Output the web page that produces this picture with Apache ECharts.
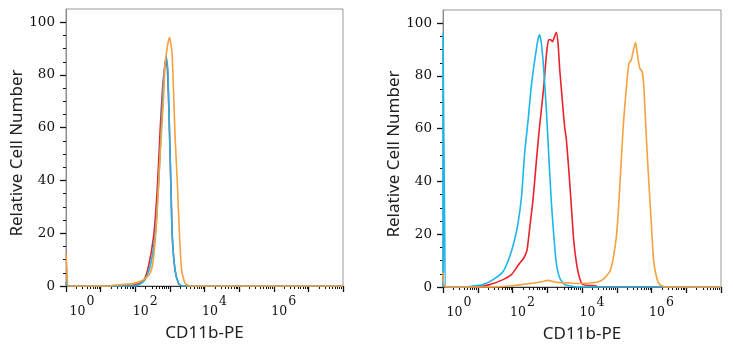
<!DOCTYPE html>
<html><head><meta charset="utf-8">
<script src="https://cdn.jsdelivr.net/npm/echarts@6/dist/echarts.min.js"></script>
<style>html,body{margin:0;padding:0;background:#fff}#c{width:733px;height:350px}</style>
</head><body><div id="c"></div>
<script>
// x values are in decades (log10 of intensity)
const xMajorTicks = [0,1,2,3,4,5,6,7,8];
const xLabelValues = [0,2,4,6];
const yLabelValues = [0,20,40,60,80,100];
const yMinorTicks = [5,10,15,25,30,35,45,50,55,65,70,75,85,90,95];
const seriesNames = ['Isotype', 'Blank', 'CD11b-PE'];

const leftRed = [[0,1],[0.04,0],[1.27,0],[1.85,0.2],[2.08,0.8],[2.23,1.8],[2.37,6.8],[2.53,18.7],[2.64,37.8],[2.72,59.3],[2.79,75],[2.85,83],[2.89,86],[2.93,82],[2.98,63],[3.03,37.8],[3.07,18.7],[3.15,6],[3.25,1],[3.35,0],[8,0]];
const leftCyan = [[0,1.5],[0.06,0],[1.70,0],[2.04,0.1],[2.28,2.3],[2.43,7.3],[2.57,18.7],[2.67,37.8],[2.75,59.3],[2.81,75.8],[2.89,87.4],[2.94,82],[2.98,63],[3.03,37.8],[3.07,18.7],[3.15,6],[3.25,1],[3.35,0],[8,0]];
const leftOrange = [[0,12],[0.03,6],[0.07,0],[1.30,0],[1.36,0.3],[1.70,0.6],[1.95,1],[2.23,2.3],[2.43,4.8],[2.52,9.9],[2.62,25],[2.72,50.4],[2.81,69.5],[2.86,83.4],[2.93,91],[2.99,94.2],[3.06,88.5],[3.10,75.8],[3.15,56.8],[3.22,37.8],[3.28,18.7],[3.34,6],[3.44,1],[3.58,0],[8,0]];

const rightRed = [[0,0],[0.96,0],[1.34,0.9],[1.73,2.8],[1.97,4.7],[2.11,7.2],[2.21,9.1],[2.29,10.3],[2.35,11.6],[2.42,14.1],[2.50,23],[2.59,33],[2.69,48.2],[2.76,58.3],[2.83,67.2],[2.90,76],[2.98,88.6],[3.04,93.7],[3.10,93.7],[3.15,93],[3.21,94.9],[3.26,96.5],[3.31,92.4],[3.36,82.3],[3.44,69.7],[3.50,60.8],[3.55,55.8],[3.62,44.4],[3.70,29.3],[3.76,17.9],[3.84,9.1],[3.93,3.4],[4.03,0.9],[4.41,0.4],[4.45,0],[8,0]];
const rightCyan = [[0,0],[0,96],[0.05,20],[0.08,0],[0.48,0],[0.77,0.2],[1.15,0.9],[1.44,2.8],[1.73,5.9],[1.92,11.6],[2.06,17.9],[2.16,24.2],[2.26,34.3],[2.35,50.8],[2.45,63.4],[2.54,76],[2.64,86],[2.73,93.7],[2.78,95.6],[2.83,92.4],[2.90,82.3],[2.98,65.9],[3.05,48.2],[3.12,31.8],[3.19,19.2],[3.26,9.1],[3.36,3.4],[3.50,0.9],[3.74,0.2],[3.93,0],[8,0]];
const rightOrange = [[0,5.5],[0.08,0],[1.34,0],[2.01,0.5],[2.50,1.3],[2.88,2.1],[3.02,2.5],[3.26,1.8],[3.65,1.5],[3.93,1.3],[4.41,1.8],[4.60,2.8],[4.80,5.9],[4.89,10.3],[4.99,19.2],[5.06,31.8],[5.13,48.2],[5.20,63.4],[5.28,76],[5.35,84.8],[5.42,86.1],[5.47,89.2],[5.54,92.7],[5.59,88.6],[5.66,83],[5.73,81.7],[5.78,76],[5.85,57],[5.93,38.1],[6.00,23],[6.06,10.3],[6.14,4],[6.24,0.9],[6.43,0],[8,0]];

const colors = ['#e8232b', '#1cb6e8', '#f5a13d'];

// minor tick positions of a log axis (2..9 within each decade)
const xMinorTicks = [];
for (let d = 0; d < 8; d++) for (let k = 2; k <= 9; k++) xMinorTicks.push(d + Math.log10(k));

const serif = 'DejaVu Serif';
const sans = 'Noto Sans';

function xAxesFor(gi) {
  return [{
    type: 'value', gridIndex: gi, position: 'bottom', min: 0, max: 8, interval: 1,
    name: 'CD11b-PE', nameLocation: 'middle', nameGap: 39,
    nameTextStyle: { fontFamily: sans, fontSize: 17, color: '#222' },
    axisLine: { show: true, onZero: false, lineStyle: { color: '#333', width: 1 } },
    axisTick: { show: true, inside: false, customValues: xMajorTicks, length: 6, lineStyle: { color: '#111', width: 1.3 } },
    axisLabel: {
      customValues: xLabelValues, margin: 14,
      formatter: v => (v === 0 ? '{b0|10}' : '{b|10}') + '{s|' + v + '}',
      rich: {
        b0: { fontFamily: serif, fontSize: 12.5, color: '#111', lineHeight: 14, padding: [10, 0, 0, 32] },
        b: { fontFamily: serif, fontSize: 12.5, color: '#111', lineHeight: 14, padding: [10, 0, 0, 20] },
        s: { fontFamily: serif, fontSize: 12.5, color: '#111', lineHeight: 14, padding: [0, 0, 10, 1] }
      }
    },
    splitLine: { show: false }
  }, {
    type: 'value', gridIndex: gi, position: 'bottom', offset: 0, min: 0, max: 8, interval: 1,
    axisLine: { show: false, onZero: false },
    axisTick: { show: true, inside: false, customValues: xMinorTicks, length: 3, lineStyle: { color: '#111', width: 1 } },
    axisLabel: { show: false },
    splitLine: { show: false }
  }];
}
function yAxesFor(gi) {
  return [{
    type: 'value', gridIndex: gi, position: 'left', min: 0, max: 105, interval: 20,
    name: 'Relative Cell Number', nameLocation: 'middle', nameGap: 38,
    nameTextStyle: { fontFamily: sans, fontSize: 17, color: '#222', padding: [0, 11, 0, 0] },
    axisLine: { show: true, onZero: false, lineStyle: { color: '#888', width: 1 } },
    axisTick: { show: true, inside: false, customValues: yLabelValues, length: 6, lineStyle: { color: '#111', width: 1.3 } },
    axisLabel: { customValues: yLabelValues, margin: 11, fontFamily: serif, fontSize: 13.5, color: '#111' },
    splitLine: { show: false }
  }, {
    type: 'value', gridIndex: gi, position: 'left', offset: 0, min: 0, max: 105, interval: 20,
    axisLine: { show: false, onZero: false },
    axisTick: { show: true, inside: false, customValues: yMinorTicks, length: 3, lineStyle: { color: '#111', width: 1 } },
    axisLabel: { show: false },
    splitLine: { show: false }
  }];
}
function line(name, data, xi, yi, color) {
  return {
    type: 'line', name, data, xAxisIndex: xi, yAxisIndex: yi,
    showSymbol: false, smooth: 0.2, clip: false,
    lineStyle: { color, width: 1.6 }, itemStyle: { color },
    animation: false
  };
}

const chart = echarts.init(document.getElementById('c'), null, { renderer: 'canvas' });
chart.setOption({
  backgroundColor: '#fff',
  animation: false,
  grid: [
    { left: 66, right: 390, top: 9, bottom: 64, show: true, borderColor: '#999', borderWidth: 1 },
    { left: 443, right: 12, top: 10, bottom: 63, show: true, borderColor: '#999', borderWidth: 1 }
  ],
  xAxis: [...xAxesFor(0), ...xAxesFor(1)],
  yAxis: [...yAxesFor(0), ...yAxesFor(1)],
  series: [
    line(seriesNames[0], leftRed, 0, 0, colors[0]),
    line(seriesNames[1], leftCyan, 0, 0, colors[1]),
    line(seriesNames[2], leftOrange, 0, 0, colors[2]),
    line(seriesNames[0], rightRed, 2, 2, colors[0]),
    line(seriesNames[1], rightCyan, 2, 2, colors[1]),
    line(seriesNames[2], rightOrange, 2, 2, colors[2])
  ]
});
</script>
</body></html>
